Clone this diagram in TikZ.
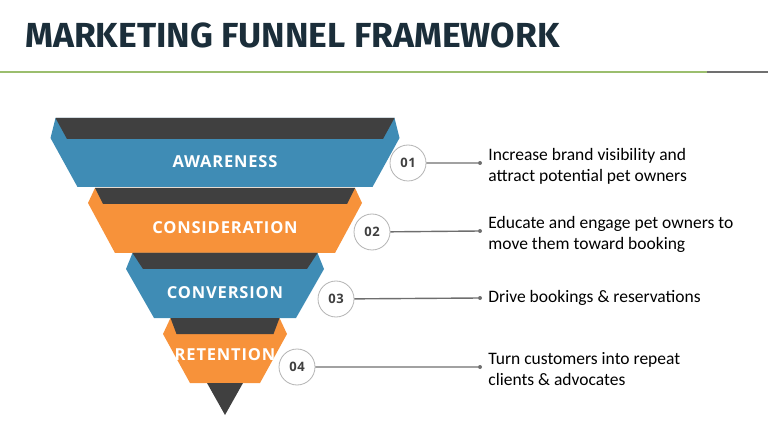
\documentclass[tikz,border=0pt]{standalone}
\usepackage{fontspec}
\setmainfont{Carlito}
\newfontfamily\titlefont{Fira Sans}[FakeStretch=1.02]
\newfontfamily\stagefont{Open Sans}[LetterSpace=5]
\usetikzlibrary{positioning}
\definecolor{funblue}{HTML}{3F8CB5}
\definecolor{funorange}{HTML}{F7923A}
\definecolor{fundark}{HTML}{404040}
\definecolor{titleblue}{HTML}{1B2E3A}
\definecolor{rulegreen}{HTML}{9BBE6E}
\definecolor{rulegray}{HTML}{707070}
\definecolor{numgray}{HTML}{B4B4B4}
\definecolor{linegray}{HTML}{6E6E6E}
\tikzstyle{stage} = [text=white,inner sep=0,
                     font=\stagefont\bfseries\fontsize{16.5}{17}\selectfont]
\tikzstyle{num}   = [circle,draw=numgray,fill=white,line width=0.8pt,
                     minimum size=36pt,inner sep=0,text=fundark,
                     font=\stagefont\bfseries\fontsize{13}{13}\selectfont]
\tikzstyle{dot}   = [circle,fill=linegray,minimum size=4pt,inner sep=0]
\tikzstyle{desc}  = [align=left,inner sep=0,text=black,
                     font=\fontsize{17.5}{21}\selectfont]

\begin{document}
\begin{tikzpicture}[x=1pt,y=-1pt]
   \useasboundingbox (0,0) rectangle (768,438);

   % heading
   \node[anchor=base west,inner sep=0,text=titleblue,
         font=\titlefont\bfseries\fontsize{34.8}{36}\selectfont]
         (title) at (25,48) {MARKETING FUNNEL FRAMEWORK};
   \draw[rulegreen,line width=2pt] (0,72) -- (707,72);
   \draw[rulegray,line width=2pt] (707,72) -- (768,72);

   % funnel levels, back edge first
   \fill[funblue] (55.5,118) -- (50.5,138) -- (77.5,187) -- (372.5,187)
        -- (399.5,138) -- (394.5,118) -- cycle;
   \fill[fundark] (55.5,118) -- (67,139) -- (383,139) -- (394.5,118) -- cycle;

   \fill[funorange] (95,188) -- (88,203) -- (115,253) -- (335,253)
        -- (362,203) -- (355,188) -- cycle;
   \fill[fundark] (95,188) -- (103,204) -- (347,204) -- (355,188) -- cycle;

   \fill[funblue] (132.5,253) -- (126,269) -- (154,318) -- (296,318)
        -- (324,269) -- (317.5,253) -- cycle;
   \fill[fundark] (132.5,253) -- (143,269) -- (307,269) -- (317.5,253) -- cycle;

   \fill[funorange] (170.5,318) -- (163,334) -- (190,383) -- (260,383)
        -- (287,334) -- (279.5,318) -- cycle;
   \fill[fundark] (170.5,318) -- (176.5,334) -- (273.5,334) -- (279.5,318) -- cycle;

   \fill[fundark] (207,383) -- (225,415) -- (243,383) -- cycle;

   \node[stage] (aware)   at (225,162) {AWARENESS};
   \node[stage] (consid)  at (225,228) {CONSIDERATION};
   \node[stage] (convert) at (225,293) {CONVERSION};
   \node[stage] (retain)  at (225,355) {RETENTION};

   % numbered steps
   \node[num] (n1) at (408,163) {01};
   \node[num] (n2) at (372,232) {02};
   \node[num] (n3) at (336,299) {03};
   \node[num] (n4) at (297,367) {04};

   \node[dot] (d1) at (480,163) {};
   \node[dot] (d2) at (480,231) {};
   \node[dot] (d3) at (480,298) {};
   \node[dot] (d4) at (480,367) {};

   \path[draw=linegray,line width=1.4pt]
     (n1) -- (d1)
     (n2) -- (d2)
     (n3) -- (d3)
     (n4) -- (d4);

   \node[desc,right=6pt of d1,yshift=-3.5pt] (t1)
        {Increase brand visibility and\\attract potential pet owners};
   \node[desc,right=6pt of d2,yshift=-3.5pt] (t2)
        {Educate and engage pet owners to\\move them toward booking};
   \node[desc,right=6pt of d3] (t3) {Drive bookings \& reservations};
   \node[desc,right=6pt of d4,yshift=-2.5pt] (t4)
        {Turn customers into repeat\\clients \& advocates};

\end{tikzpicture}
\end{document}
